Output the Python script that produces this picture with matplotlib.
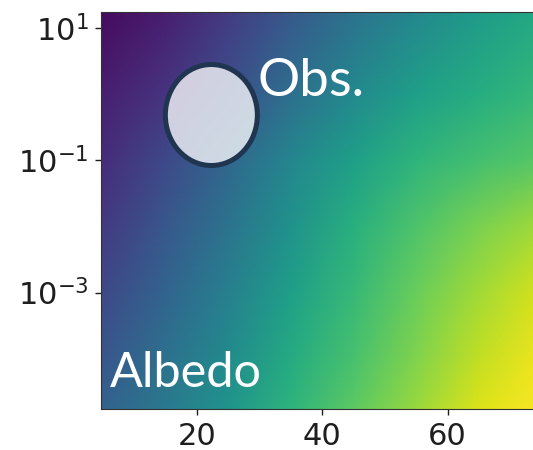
import numpy as np
import matplotlib
matplotlib.use("Agg")
import matplotlib.pyplot as plt
from matplotlib.patches import Ellipse
from matplotlib.transforms import ScaledTranslation

# grid of the albedo field (colour fraction on viridis)
field_x = [4, 15, 25, 35, 45, 55, 65, 75]
field_y = [20, 1, 1e-1, 1e-2, 1e-3, 1e-4, 1.5e-5]
field_z = [
    [0.02, 0.08, 0.17, 0.27, 0.37, 0.46, 0.54, 0.60],
    [0.08, 0.15, 0.24, 0.36, 0.47, 0.56, 0.62, 0.67],
    [0.12, 0.22, 0.33, 0.46, 0.56, 0.65, 0.70, 0.74],
    [0.16, 0.27, 0.38, 0.51, 0.63, 0.72, 0.80, 0.86],
    [0.21, 0.32, 0.43, 0.56, 0.67, 0.77, 0.86, 0.94],
    [0.26, 0.37, 0.48, 0.61, 0.71, 0.81, 0.91, 0.98],
    [0.31, 0.41, 0.52, 0.65, 0.75, 0.85, 0.95, 1.00],
]

# observed point
obs_x = 22.3
obs_y = 0.485

x_ticks = [20, 40, 60]
y_ticks = [1e1, 1e-1, 1e-3]

fig = plt.figure(figsize=(5.33, 4.5), dpi=100)
ax = fig.add_axes([0.1895, 0.0911, 0.827, 0.8822])

X, Y = np.meshgrid(field_x, field_y)
ax.pcolormesh(X, Y, np.array(field_z), shading="gouraud", cmap="viridis",
              vmin=0, vmax=1, rasterized=True)

ax.set_yscale("log")
ax.set_xlim(4.7, 75)
ax.set_ylim(1.74e-5, 17.5)
ax.set_xticks(x_ticks)
ax.set_yticks(y_ticks)
ax.yaxis.set_minor_locator(matplotlib.ticker.NullLocator())
ax.tick_params(labelsize=22, length=4, width=1, colors="#1e1e1e", pad=5)
for sp in ax.spines.values():
    sp.set_color("#333333")

# ellipse sized in inches, centred on the data point
tr = fig.dpi_scale_trans + ScaledTranslation(obs_x, obs_y, ax.transData)
ax.add_patch(Ellipse((0, 0), 0.92, 1.01, transform=tr, facecolor=(1, 1, 1, 0.76),
                     edgecolor="#1f3550", linewidth=3.6, zorder=3))

ax.text(0.356, 0.788, "Obs.", transform=ax.transAxes, color="white",
        fontsize=38, family="Lato", va="baseline", ha="left", zorder=4)
ax.text(0.020, 0.055, "Albedo", transform=ax.transAxes, color="white",
        fontsize=35, family="Lato", va="baseline", ha="left", zorder=4)

fig.savefig("out.png", dpi=100)
